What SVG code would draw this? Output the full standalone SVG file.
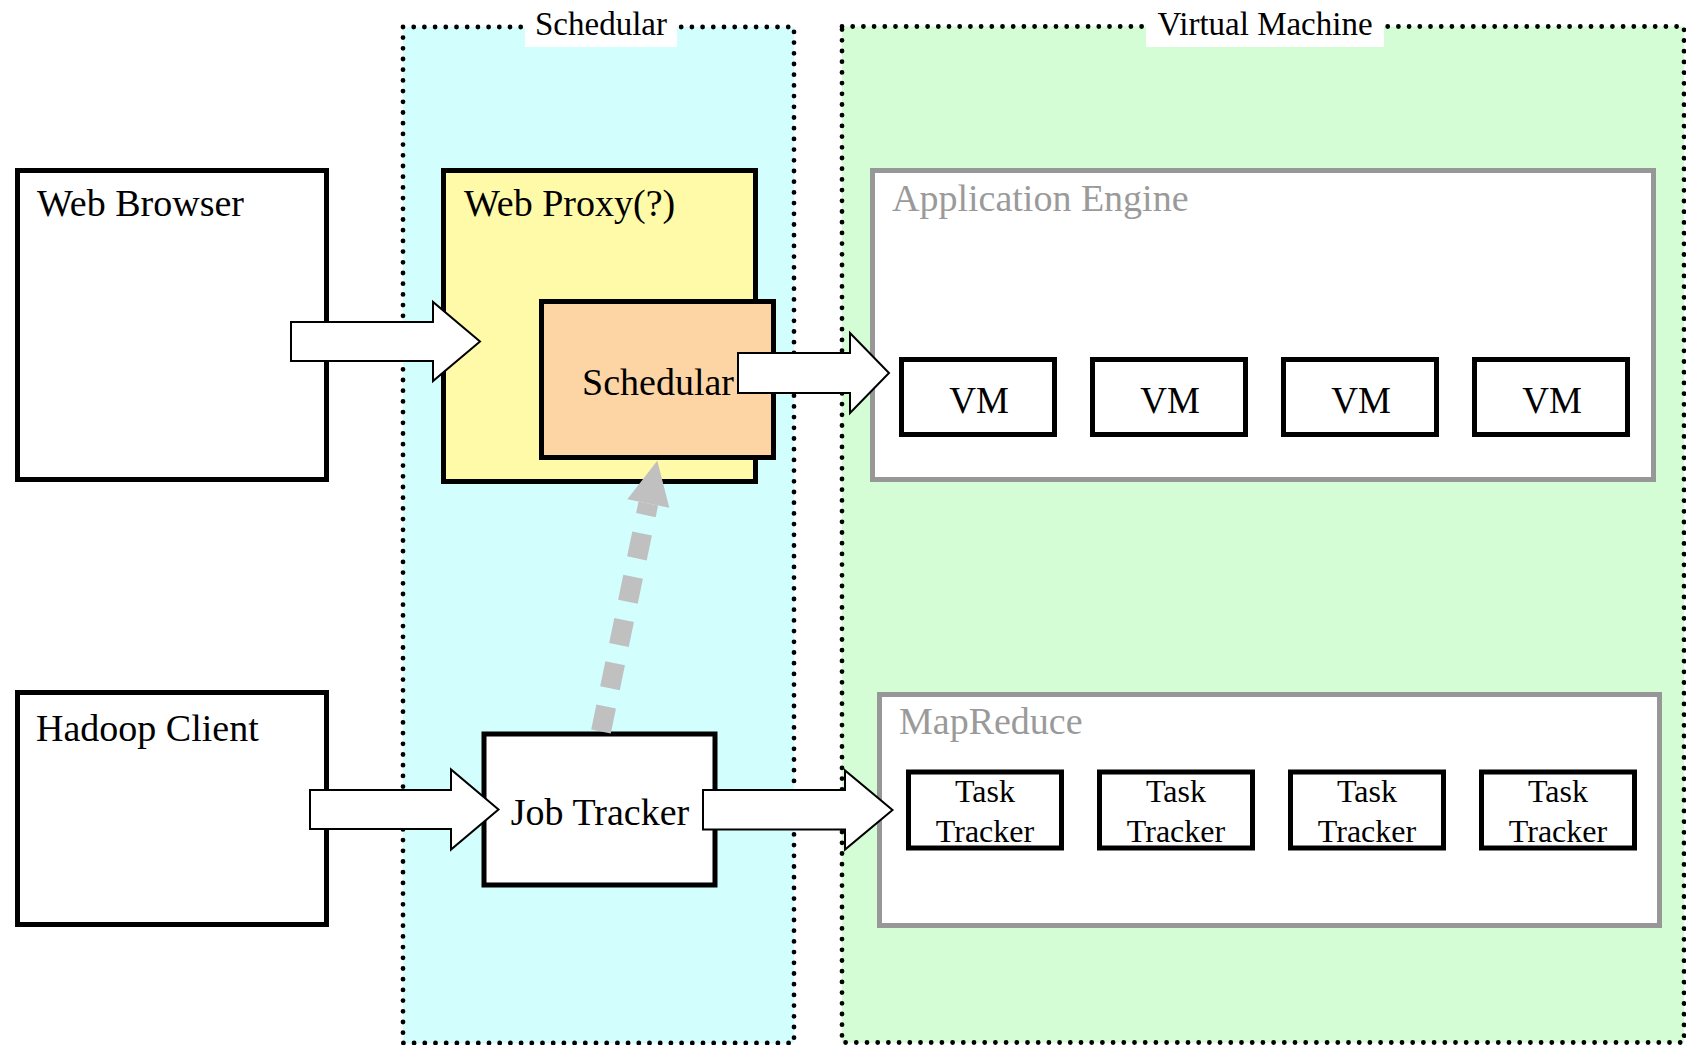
<svg xmlns="http://www.w3.org/2000/svg" width="1686" height="1045" viewBox="0 0 1686 1045">
<style>
text{font-family:"Liberation Serif","Times New Roman",serif;fill:#000}
.cont{stroke:#000;stroke-width:4.8;stroke-dasharray:0 10.7;stroke-linecap:round}
.box{stroke:#000;stroke-width:5}
.gbox{fill:#fff;stroke:#979797;stroke-width:5}
.lbl{font-size:33px;text-anchor:middle}
.t38{font-size:38px}
.gt{font-size:38px;fill:#9a9a9a}
.vm{font-size:37px;text-anchor:middle}
.tt{font-size:32px;text-anchor:middle}
.blk{fill:#fff;stroke:#000;stroke-width:2;stroke-linejoin:miter}
</style>
<rect width="1686" height="1045" fill="#fff"/>
<g id="container-schedular">
<rect x="403" y="27" width="391" height="1016" fill="#d2fefe" class="cont"/>
<rect x="525" y="0" width="152" height="47" fill="#fff"/>
<text class="lbl" x="601" y="35">Schedular</text>
</g>
<g id="container-vm">
<rect x="842" y="26.5" width="842" height="1016" fill="#d4fcd5" class="cont"/>
<rect x="1146" y="0" width="238" height="47" fill="#fff"/>
<text class="lbl" x="1265" y="35">Virtual Machine</text>
</g>
<g id="web-browser">
<rect x="17.5" y="170.5" width="309" height="309" fill="#fff" class="box"/>
<text class="t38" x="37" y="216">Web Browser</text>
</g>
<g id="web-proxy">
<rect x="443.5" y="170.5" width="312" height="311" fill="#fffaa8" class="box"/>
<text class="t38" x="464" y="216">Web Proxy(?)</text>
</g>
<g id="schedular">
<rect x="541.5" y="301.5" width="232" height="156" fill="#fdd5a5" class="box"/>
<text class="t38" x="658" y="395" text-anchor="middle">Schedular</text>
</g>
<g id="application-engine">
<rect x="872.5" y="170.5" width="781" height="309" class="gbox"/>
<text class="gt" x="892" y="211">Application Engine</text>
</g>
<g id="vm1"><rect x="901.5" y="359.5" width="153" height="75" fill="#fff" class="box"/><text class="vm" x="979" y="413">VM</text></g>
<g id="vm2"><rect x="1092.5" y="359.5" width="153" height="75" fill="#fff" class="box"/><text class="vm" x="1170" y="413">VM</text></g>
<g id="vm3"><rect x="1283.5" y="359.5" width="153" height="75" fill="#fff" class="box"/><text class="vm" x="1361" y="413">VM</text></g>
<g id="vm4"><rect x="1474.5" y="359.5" width="153" height="75" fill="#fff" class="box"/><text class="vm" x="1552" y="413">VM</text></g>
<g id="hadoop-client">
<rect x="17.5" y="692.5" width="309" height="232" fill="#fff" class="box"/>
<text class="t38" x="36" y="741">Hadoop Client</text>
</g>
<g id="job-tracker">
<rect x="484" y="734" width="231" height="151" fill="#fff" class="box"/>
<text class="t38" x="600" y="825" text-anchor="middle">Job Tracker</text>
</g>
<g id="mapreduce">
<rect x="879.5" y="694.5" width="780" height="231" class="gbox"/>
<text class="gt" x="899" y="734">MapReduce</text>
</g>
<g id="tt1"><rect x="908.5" y="772" width="153" height="76" fill="#fff" class="box"/><text class="tt" x="985" y="802">Task</text><text class="tt" x="985" y="842">Tracker</text></g>
<g id="tt2"><rect x="1099.5" y="772" width="153" height="76" fill="#fff" class="box"/><text class="tt" x="1176" y="802">Task</text><text class="tt" x="1176" y="842">Tracker</text></g>
<g id="tt3"><rect x="1290.5" y="772" width="153" height="76" fill="#fff" class="box"/><text class="tt" x="1367" y="802">Task</text><text class="tt" x="1367" y="842">Tracker</text></g>
<g id="tt4"><rect x="1481.5" y="772" width="153" height="76" fill="#fff" class="box"/><text class="tt" x="1558" y="802">Task</text><text class="tt" x="1558" y="842">Tracker</text></g>
<g id="connectors">
<path class="blk" d="M291,322 H433 V302 L480,341.5 L433,381 V361 H291 Z"/>
<path class="blk" d="M738,353 H850 V333 L889,373 L850,413 V393 H738 Z"/>
<path class="blk" d="M310,790 H451 V769.5 L498.5,809.5 L451,849.5 V829 H310 Z"/>
<path class="blk" d="M703,790 H845 V770.5 L892.5,810 L845,849.5 V829.5 H703 Z"/>
<line x1="601" y1="731.5" x2="648.3" y2="503.5" stroke="#c0c0c0" stroke-width="20" stroke-dasharray="25.5 18.7"/>
<polygon points="657.3,460.7 669.3,507.7 627.3,499.3" fill="#c0c0c0"/>
</g>
</svg>
